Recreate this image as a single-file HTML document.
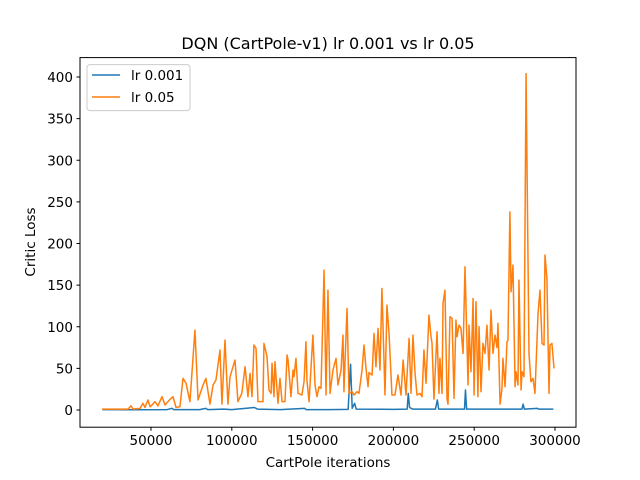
<!DOCTYPE html>
<html><head><meta charset="utf-8"><style>
body{margin:0;background:#fff;}
svg{display:block;font-family:"DejaVu Sans","Liberation Sans",sans-serif;}
</style></head><body>
<svg id="chart" width="640" height="480">
<rect x="0" y="0" width="640" height="480" fill="#fff"/>
<text x="328" y="49" font-size="16" text-anchor="middle">DQN (CartPole-v1) lr 0.001 vs lr 0.05</text>
<g id="plot"></g>
<rect x="80" y="57.6" width="496" height="369.6" fill="none" stroke="#000" stroke-width="1"/>
<text x="328" y="467" font-size="13.5" text-anchor="middle">CartPole iterations</text>
<text x="35" y="242" font-size="13.5" text-anchor="middle" transform="rotate(-90 35 242)">Critic Loss</text>
<g>
<rect x="87" y="64.6" width="103" height="46" rx="3" fill="#fff" fill-opacity="0.8" stroke="#ccc"/>
<g>
<line x1="92" y1="75" x2="120" y2="75" stroke="#1f77b4" stroke-width="1.5"/>
<text x="131" y="80" font-size="13.5">lr 0.001</text></g>
<g>
<line x1="92" y1="97" x2="120" y2="97" stroke="#ff7f0e" stroke-width="1.5"/>
<text x="131" y="102" font-size="13.5">lr 0.05</text></g>
</g>
</svg>
<script>
const xTicks=[50000,100000,150000,200000,250000,300000];
const yTicks=[0,50,100,150,200,250,300,350,400];
const orangeIter=[19.7,35.8,37.6,38.9,43.2,45.0,46.3,48.1,49.4,50.6,52.5,54.3,56.8,58.7,61.8,63.6,65.5,67.9,69.8,71.7,74.1,77.2,79.1,82.2,84.0,86.5,88.4,90.2,92.7,93.9,95.8,97.6,98.9,102.0,103.8,106.2,108.2,110.0,111.3,112.5,113.7,115.0,116.2,119.3,119.9,121.8,123.0,124.3,124.9,126.1,126.7,128.6,129.8,131.1,132.9,134.2,134.8,136.6,137.9,138.5,139.7,141.0,143.4,144.7,145.9,146.5,147.8,150.2,151.5,152.7,154.0,155.2,157.1,158.3,159.5,160.8,162.6,164.5,165.7,167.6,168.8,169.4,171.3,172.5,174.4,175.6,177.5,178.7,180.6,181.8,183.0,184.3,184.9,186.8,188.0,189.2,190.5,191.7,192.9,194.8,196.0,197.3,199.1,201.0,202.8,204.7,206.0,207.8,209.7,210.9,212.1,213.4,214.6,216.5,217.7,218.9,220.2,222.0,223.3,223.9,225.1,227.0,228.2,228.8,230.1,230.7,231.9,233.2,233.8,235.0,236.3,237.5,238.7,239.4,240.6,241.8,243.1,244.3,246.2,246.8,248.0,249.3,249.9,251.1,252.3,253.0,254.2,255.4,256.7,257.9,259.2,260.4,261.6,262.9,264.1,264.7,266.0,267.2,267.8,269.1,270.3,270.9,272.1,272.8,274.0,275.3,275.9,277.1,277.7,279.0,279.6,280.8,282.1,283.9,285.1,286.4,287.6,289.5,290.7,292.0,293.2,293.8,295.0,296.3,296.9,298.1,299.4];
const orangeLoss=[1,1,5,1,2,8,3,12,4,6,10,5,16,6,13,16,3,4,38,32,10,96,12,30,38,7,30,36,72,7,84,7,40,60,10,20,52,16,44,16,78,74,10,10,80,64,24,20,56,16,58,8,38,10,10,66,60,16,48,40,62,20,18,34,82,36,10,90,30,16,28,26,168,18,144,20,48,62,30,48,90,22,122,20,22,18,22,20,48,78,51,28,45,42,92,52,98,48,146,18,126,92,18,18,42,18,60,18,86,20,90,44,18,20,16,72,32,114,88,80,13,94,20,62,20,128,144,13,7,112,110,14,108,88,102,98,68,172,30,102,46,134,18,130,16,100,22,80,68,102,48,120,68,90,75,104,7,26,62,28,82,84,238,142,174,28,46,30,156,24,46,40,404,68,34,38,20,116,144,80,78,186,158,20,78,80,50];
const blueIter=[20,40,60,63,64,80,84,85,95,100,114,116,130,145,146,160,172,173.5,174.5,176,177,200,208.5,209.2,210,212,226,227.2,228,244,244.6,245.3,270,279.5,280.3,281,289,290,299];
const blueLoss=[0.5,0.3,0.5,2,0.5,0.5,2,0.5,1,0.5,3,1,0.5,2,0.5,0.5,0.8,55,2,8,1,0.8,1,20,3,1,1,12,1,1,24,1,1,1,7,1,2,1,1];
const NS="http://www.w3.org/2000/svg";
const svg=document.getElementById('chart');
const plot=document.getElementById('plot');
function xs(v){return 151+(v-50000)*404/250000;}
function ys(v){return 410-v*333/400;}
function mk(tag,attrs){const e=document.createElementNS(NS,tag);for(const k in attrs)e.setAttribute(k,attrs[k]);return e;}
xTicks.forEach(t=>{
  const g=mk('g',{});
  
  
  g.appendChild(mk('line',{x1:xs(t),y1:427.2,x2:xs(t),y2:430.7,stroke:'#000'}));
  const tx=mk('text',{x:xs(t),y:445,'font-size':'13.5','text-anchor':'middle'});
  tx.textContent=t;g.appendChild(tx);svg.appendChild(g);
});
yTicks.forEach(t=>{
  const g=mk('g',{});
  
  
  g.appendChild(mk('line',{x1:76.5,y1:ys(t),x2:80,y2:ys(t),stroke:'#000'}));
  const tx=mk('text',{x:73,y:ys(t)+5,'font-size':'13.5','text-anchor':'end'});
  tx.textContent=t;g.appendChild(tx);svg.appendChild(g);
});
function line(it,vals,color,name){
  const d=it.map((k,i)=>(i?'L':'M')+xs(k*1000).toFixed(2)+','+ys(vals[i]).toFixed(2)).join('');
  const p=mk('path',{d:d,fill:'none',stroke:color,'stroke-width':'1.5','stroke-linejoin':'round'});
  
  
  plot.appendChild(p);
}
line(blueIter,blueLoss,'#1f77b4','series-lr-0.001');
line(orangeIter,orangeLoss,'#ff7f0e','series-lr-0.05');
</script>
</body></html>
